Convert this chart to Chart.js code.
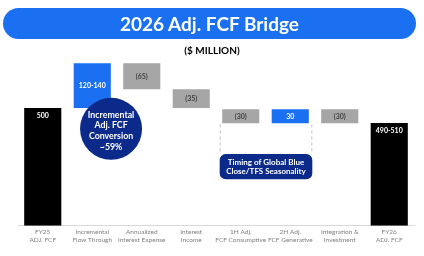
<!DOCTYPE html>
<html>
<head>
<meta charset="utf-8">
<script src="https://cdn.jsdelivr.net/npm/chart.js@4/dist/chart.umd.min.js"></script>
<style>
  body { margin: 0; background: #fff; }
  #wrap { position: relative; width: 424px; height: 256px; overflow: hidden; }
  #bridgeCanvas { position: absolute; left: 0; top: 0; }
  .title-bar {
    position: absolute; left: 3px; top: 8px; width: 413px; height: 31px;
    background: #1a70f0; border-radius: 16px; color: #fff;
    font: bold 19px Lato, sans-serif; text-align: center; line-height: 31px;
  }
  .units {
    position: absolute; left: 0; top: 44px; width: 424px; text-align: center;
    font: bold 10px Lato, sans-serif; color: #000;
  }
</style>
</head>
<body>
<div id="wrap">
  <canvas id="bridgeCanvas" width="424" height="256"></canvas>
  <div class="title-bar">2026 Adj. FCF Bridge</div>
  <div class="units">($ MILLION)</div>
</div>
<script>
// bridge steps (schematic heights, as drawn on the slide)
const categories = [
  ['FY25', 'ADJ. FCF'],
  ['Incremental', 'Flow Through'],
  ['Annualized', 'Interest Expense'],
  ['Interest', 'Income'],
  ['1H Adj.', 'FCF Consumptive'],
  ['2H Adj.', 'FCF Generative'],
  ['Integration &', 'Investment'],
  ['FY26', 'ADJ. FCF']
];
const barLows  = [0,   500, 580, 500, 435, 435, 435, 0];
const barHighs = [500, 690, 690, 580, 495, 495, 495, 437];
const valueLabels = ['500', '120-140', '(65)', '(35)', '(30)', '30', '(30)', '490-510'];
const barKinds = ['total', 'up', 'down', 'down', 'down', 'up', 'down', 'total'];

const KIND_COLOR = { total: '#000000', up: '#1a70f0', down: '#a6a6a6' };
const NAVY = '#0b2a8a';

const valueLabelPlugin = {
  id: 'valueLabels',
  afterDatasetsDraw(chart) {
    const { ctx } = chart;
    const meta = chart.getDatasetMeta(0);
    ctx.save();
    ctx.font = 'bold 7px Lato, sans-serif';
    ctx.textAlign = 'center';
    ctx.textBaseline = 'middle';
    meta.data.forEach((bar, i) => {
      const kind = barKinds[i];
      const top = Math.min(bar.y, bar.base);
      const bottom = Math.max(bar.y, bar.base);
      ctx.fillStyle = kind === 'down' ? '#404040' : '#ffffff';
      const y = kind === 'total' ? top + 8 : (top + bottom) / 2;
      ctx.fillText(valueLabels[i], bar.x, y);
    });
    ctx.restore();
  }
};

const calloutPlugin = {
  id: 'callouts',
  afterDatasetsDraw(chart) {
    const { ctx, scales: { x, y } } = chart;
    const meta = chart.getDatasetMeta(0);
    ctx.save();

    // circle over the flow-through bar
    const step = x.getPixelForValue(2) - x.getPixelForValue(1);
    const cx = x.getPixelForValue(1) + step * 0.38;
    const cy = y.getPixelForValue(412);
    ctx.fillStyle = NAVY;
    ctx.beginPath();
    ctx.arc(cx, cy, 31, 0, Math.PI * 2);
    ctx.fill();
    ctx.fillStyle = '#fff';
    ctx.font = 'bold 8.8px Lato, sans-serif';
    ctx.textAlign = 'center';
    ctx.textBaseline = 'middle';
    ['Incremental', 'Adj. FCF', 'Conversion', '~59%'].forEach((t, k) => {
      ctx.fillText(t, cx, cy - 14 + k * 10.8);
    });

    // timing box under 1H / 2H bars
    const b4 = meta.data[4], b5 = meta.data[5];
    const left = b4.x - b4.width / 2 - 2.5;
    const right = b5.x + b5.width / 2 + 3.5;
    const boxTop = y.getPixelForValue(305);
    const boxBottom = y.getPixelForValue(198);
    ctx.strokeStyle = '#bfbfbf';
    ctx.lineWidth = 1;
    ctx.setLineDash([3, 3]);
    const barBottom = Math.max(b4.y, b4.base) + 1;
    ctx.beginPath();
    ctx.moveTo(left + 0.5, barBottom); ctx.lineTo(left + 0.5, boxTop);
    ctx.moveTo(right - 0.5, barBottom); ctx.lineTo(right - 0.5, boxTop);
    ctx.stroke();
    ctx.setLineDash([]);
    ctx.fillStyle = NAVY;
    ctx.beginPath();
    ctx.roundRect(left, boxTop, right - left, boxBottom - boxTop, 6);
    ctx.fill();
    ctx.fillStyle = '#fff';
    ctx.font = 'bold 8px Lato, sans-serif';
    const mid = (boxTop + boxBottom) / 2;
    ctx.fillText('Timing of Global Blue', (left + right) / 2, mid - 4.5);
    ctx.fillText('Close/TFS Seasonality', (left + right) / 2, mid + 4.5);
    ctx.restore();
  }
};

new Chart(document.getElementById('bridgeCanvas'), {
  type: 'bar',
  data: {
    labels: categories,
    datasets: [{
      data: barLows.map((lo, i) => [lo, barHighs[i]]),
      backgroundColor: barKinds.map(k => KIND_COLOR[k]),
      borderWidth: 0,
      barPercentage: 0.75,
      categoryPercentage: 1
    }]
  },
  options: {
    responsive: false,
    animation: false,
    layout: { padding: { top: 61, left: 18, right: 10, bottom: 10 } },
    plugins: { legend: { display: false }, tooltip: { enabled: false } },
    scales: {
      y: { display: false, min: 0, max: 700 },
      x: {
        grid: { display: false, drawTicks: false },
        border: { display: true, color: '#d9d9d9', width: 1 },
        ticks: {
          autoSkip: false, maxRotation: 0, padding: 2,
          color: '#7f7f7f',
          font: { family: 'Lato', size: 6.5, lineHeight: 1.25 }
        }
      }
    }
  },
  plugins: [valueLabelPlugin, calloutPlugin]
});
</script>
</body>
</html>
